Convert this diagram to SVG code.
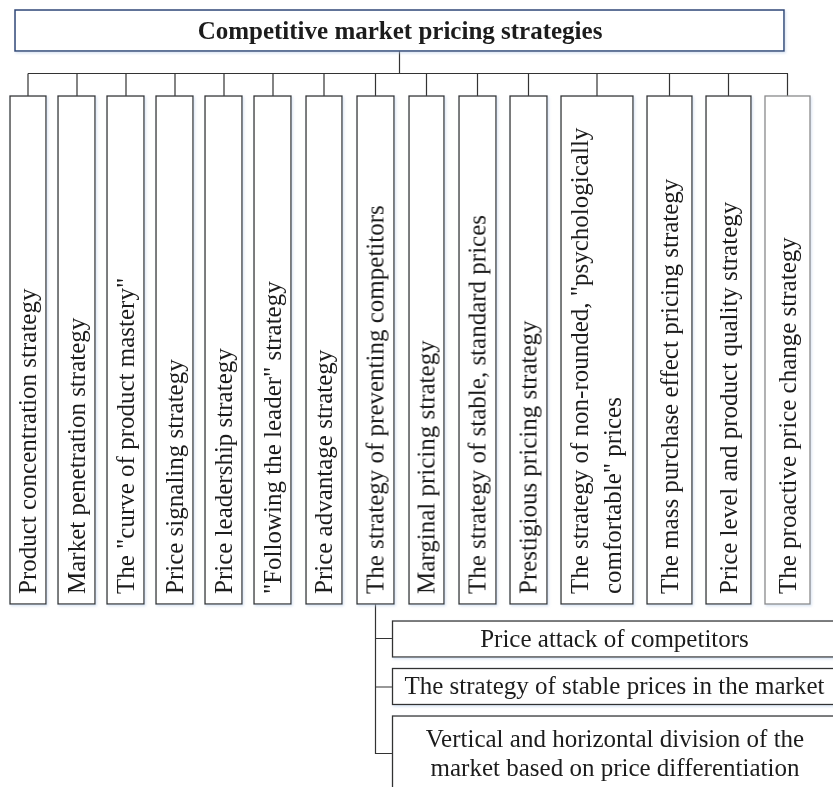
<svg xmlns="http://www.w3.org/2000/svg" width="833" height="787" viewBox="0 0 833 787">
  <defs>
    <filter id="soft" x="-5%" y="-5%" width="110%" height="110%">
      <feDropShadow dx="1.2" dy="1.5" stdDeviation="1.2" flood-color="#b9cde8" flood-opacity="0.55"/>
    </filter>
    <style>
      .box { fill: #ffffff; stroke: #333333; stroke-width: 1.3; }
      .title-box { fill: #ffffff; stroke: #2c4677; stroke-width: 1.5; }
      .light { stroke: #8a8a8a; }
      .link { fill: none; stroke: #333333; stroke-width: 1.2; }
      text { font-family: "Liberation Serif", "Times New Roman", serif; font-size: 25px; fill: #1c1c1c; }
      .title { font-weight: bold; text-anchor: middle; }
      .mid { text-anchor: middle; }
    </style>
  </defs>

  <rect width="833" height="787" fill="#ffffff"/>

  <!-- tree connectors -->
  <g id="connectors" class="link">
    <path d="M399.5 51 V73.5"/>
    <path d="M28 73.5 H788"/>
    <path d="M28 73.5 V96 M77 73.5 V96 M126 73.5 V96 M175 73.5 V96 M224 73.5 V96 M273 73.5 V96 M324 73.5 V96 M375.5 73.5 V96 M426.5 73.5 V96 M477.5 73.5 V96 M528.5 73.5 V96 M597 73.5 V96 M669.5 73.5 V96 M728.5 73.5 V96 M787.5 73.5 V96"/>
    <path d="M375.5 604 V753.5 H392.5"/>
    <path d="M375.5 638.5 H392.5 M375.5 687 H392.5"/>
  </g>

  <g filter="url(#soft)">
    <g id="root">
      <rect class="title-box" x="15" y="10" width="769" height="41"/>
      <text class="title" x="400" y="38.5">Competitive market pricing strategies</text>
    </g>

    <g id="n1">
      <rect class="box" x="10" y="96" width="36" height="508"/>
      <text transform="translate(36 594) rotate(-90)">Product concentration strategy</text>
    </g>
    <g id="n2">
      <rect class="box" x="58" y="96" width="37" height="508"/>
      <text transform="translate(85 594) rotate(-90)">Market penetration strategy</text>
    </g>
    <g id="n3">
      <rect class="box" x="107" y="96" width="37" height="508"/>
      <text transform="translate(134 594) rotate(-90)">The "curve of product mastery"</text>
    </g>
    <g id="n4">
      <rect class="box" x="156" y="96" width="37" height="508"/>
      <text transform="translate(183 594) rotate(-90)">Price signaling strategy</text>
    </g>
    <g id="n5">
      <rect class="box" x="205" y="96" width="37" height="508"/>
      <text transform="translate(232 594) rotate(-90)">Price leadership strategy</text>
    </g>
    <g id="n6">
      <rect class="box" x="254" y="96" width="37" height="508"/>
      <text transform="translate(281 594) rotate(-90)">"Following the leader" strategy</text>
    </g>
    <g id="n7">
      <rect class="box" x="306" y="96" width="36" height="508"/>
      <text transform="translate(332 594) rotate(-90)">Price advantage strategy</text>
    </g>
    <g id="n8">
      <rect class="box" x="357" y="96" width="37" height="508"/>
      <text transform="translate(383.5 594) rotate(-90)">The strategy of preventing competitors</text>
    </g>
    <g id="n9">
      <rect class="box" x="409" y="96" width="35" height="508"/>
      <text transform="translate(434.5 594) rotate(-90)">Marginal pricing strategy</text>
    </g>
    <g id="n10">
      <rect class="box" x="459" y="96" width="37" height="508"/>
      <text transform="translate(485.5 594) rotate(-90)">The strategy of stable, standard prices</text>
    </g>
    <g id="n11">
      <rect class="box" x="510" y="96" width="37" height="508"/>
      <text transform="translate(536.5 594) rotate(-90)">Prestigious pricing strategy</text>
    </g>
    <g id="n12">
      <rect class="box" x="561" y="96" width="72" height="508"/>
      <text transform="translate(588 594) rotate(-90)">The strategy of non-rounded, "psychologically</text>
      <text transform="translate(621 594) rotate(-90)">comfortable" prices</text>
    </g>
    <g id="n13">
      <rect class="box" x="647" y="96" width="45" height="508"/>
      <text transform="translate(678 594) rotate(-90)">The mass purchase effect pricing strategy</text>
    </g>
    <g id="n14">
      <rect class="box" x="706" y="96" width="45" height="508"/>
      <text transform="translate(737 594) rotate(-90)">Price level and product quality strategy</text>
    </g>
    <g id="n15">
      <rect class="box light" x="765" y="96" width="45" height="508"/>
      <text transform="translate(796 594) rotate(-90)">The proactive price change strategy</text>
    </g>

    <g id="s1">
      <rect class="box" x="392.5" y="621" width="450" height="36"/>
      <text class="mid" x="614.5" y="647">Price attack of competitors</text>
    </g>
    <g id="s2">
      <rect class="box" x="392.5" y="668.5" width="450" height="36"/>
      <text class="mid" x="614.5" y="694">The strategy of stable prices in the market</text>
    </g>
    <g id="s3">
      <rect class="box" x="392.5" y="716" width="450" height="90"/>
      <text class="mid" x="615" y="746.5">Vertical and horizontal division of the</text>
      <text class="mid" x="615" y="775.5">market based on price differentiation</text>
    </g>
  </g>
</svg>
